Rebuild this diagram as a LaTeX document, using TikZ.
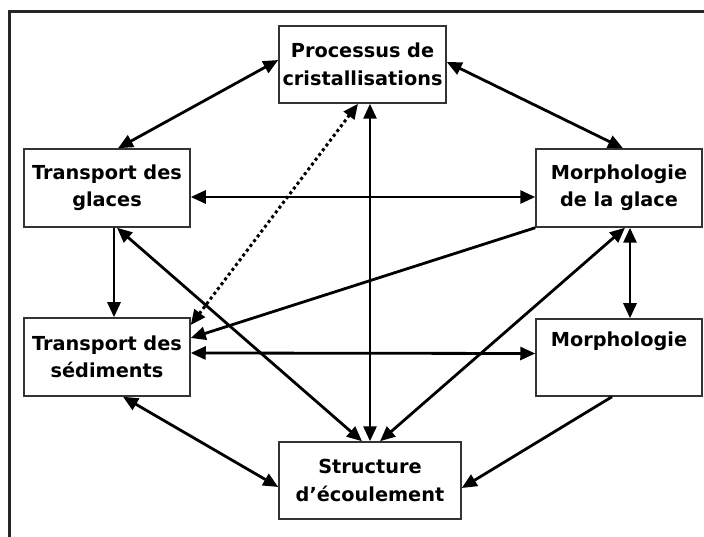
\documentclass[tikz,border=0pt]{standalone}
\usepackage{fontspec}
\setmainfont{DejaVu Sans}
\usetikzlibrary{arrows.meta}
\usetikzlibrary{calc}

\begin{document}
\begin{tikzpicture}[x=1pt,y=-1pt,
>={Triangle[length=15pt,width=13pt]},
box/.style = {draw=black!80, line width=1.5pt, fill=white, inner sep=0pt,
  align=center, font=\fontsize{19.3}{27.5}\selectfont\bfseries,
  minimum width=166pt, minimum height=77pt},
link/.style = {line width=2.8pt, <->},
oneway/.style = {line width=2.8pt, ->},
hint/.style = {line width=3pt, <->, dash pattern=on 3pt off 3pt},
frame/.style = {line width=2.2pt, color=black!85}
]
\useasboundingbox (0,0) rectangle (704,537);

% open frame, top and left only
\draw [frame] (9.5,537) -- (9.5,11.5) -- (704,11.5);

\node [box,minimum width=167pt] (proc) at (362.5,64.5) {Processus de\\cristallisations};
\node [box,minimum height=78pt] (glac) at (107,188) {Transport des\\glaces};
\node [box,minimum height=78pt] (mglace) at (619,188) {Morphologie\\de la glace};
\node [box,minimum height=78pt] (sedi) at (107,357) {Transport des\\sédiments};
\node [box] (morph) at (619,357.5) {Morphologie\\\strut};
\node [box,minimum width=182pt] (struc) at (370,480.5) {Structure\\d’écoulement};

\draw [link] ([yshift=4.5pt]proc.west) -- ([xshift=11pt]glac.north);
\draw [link] ([yshift=2.5pt]proc.east) -- ([xshift=4pt]mglace.north);
\draw [link] ([yshift=-9pt]glac.east) -- ([yshift=-9pt]mglace.west);
\draw [oneway] ([xshift=7pt]glac.south) -- ([xshift=7pt]sedi.north);
\draw [link] ([xshift=10pt]glac.south) -- ([xshift=-8pt]struc.north);
\draw [hint] ([yshift=32pt]sedi.east) -- ([xshift=-4.5pt]proc.south);
\draw [link] (proc.south -| struc.north) -- (struc.north);
\draw [oneway] (mglace.south west) -- ([yshift=19pt]sedi.east);
\draw [link] ([xshift=10pt]struc.north) -- ([xshift=6pt]mglace.south);
\draw [link] ([xshift=11pt]mglace.south) -- ([xshift=11pt]morph.north);
\draw [link] ([yshift=4pt]sedi.east) -- ([yshift=4pt]morph.west);
\draw [link] ([xshift=16pt]sedi.south) -- ([yshift=-6.5pt]struc.west);
\draw [oneway] ([xshift=-7pt]morph.south) -- ([yshift=-7.5pt]struc.east);

\end{tikzpicture}
\end{document}
